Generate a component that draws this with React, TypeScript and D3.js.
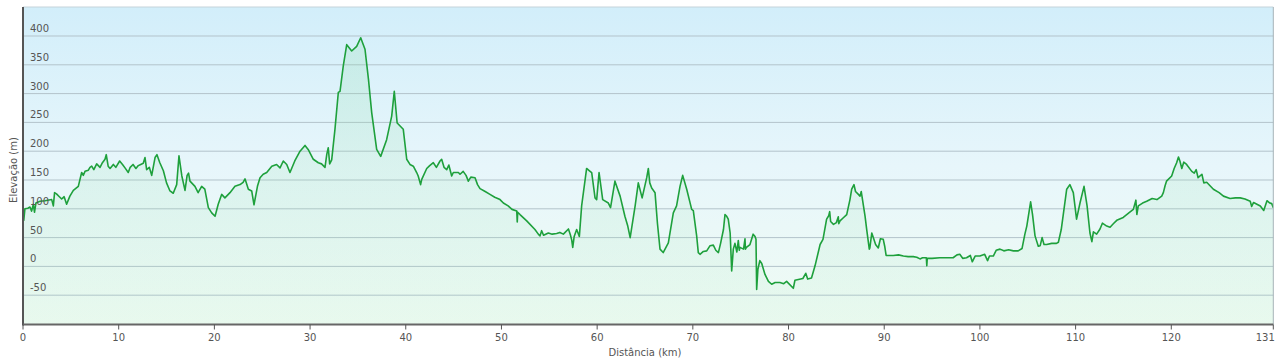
import React from "react";
import * as d3 from "d3";

const distanceKm = [
  0.0, 0.08, 0.2, 0.5, 0.73, 0.9, 1.08, 1.2, 1.35, 1.78, 2.3, 3.0, 3.17, 3.3, 3.5, 3.8, 4.04, 4.3, 4.56, 4.75,
  4.9, 5.26, 5.78, 6.13, 6.3, 6.48, 6.83, 7.0, 7.18, 7.4, 7.7, 8.05, 8.3, 8.57, 8.7, 8.9, 9.1, 9.44, 9.7, 10.1,
  10.4, 10.66, 11.0, 11.2, 11.5, 11.8, 12.05, 12.3, 12.57, 12.75, 12.92, 13.2, 13.45, 13.8, 14.0, 14.3, 14.67, 15.0, 15.36, 15.7,
  16.06, 16.3, 16.6, 16.93, 17.15, 17.3, 17.45, 17.97, 18.3, 18.67, 19.0, 19.37, 19.72, 20.07, 20.4, 20.76, 21.1, 21.63, 22.15, 22.68,
  23.0, 23.2, 23.55, 23.9, 24.14, 24.5, 24.77, 25.1, 25.47, 26.0, 26.5, 26.86, 27.2, 27.56, 27.9, 28.4, 28.95, 29.47, 29.8, 30.34,
  30.86, 31.2, 31.56, 31.75, 31.9, 32.05, 32.26, 32.6, 32.95, 33.13, 33.47, 33.83, 34.35, 34.87, 35.29, 35.74, 36.1, 36.44, 36.96, 37.38,
  38.0, 38.53, 38.8, 39.1, 39.74, 40.1, 40.44, 40.79, 41.14, 41.3, 41.55, 41.67, 42.19, 42.5, 42.88, 43.2, 43.58, 43.75, 44.0, 44.28,
  44.5, 44.8, 44.97, 45.5, 45.67, 46.0, 46.3, 46.54, 46.8, 47.24, 47.5, 47.76, 48.3, 48.8, 49.3, 49.85, 50.2, 50.7, 51.1, 51.6,
  51.65, 51.7, 51.94, 52.64, 53.5, 53.85, 54.03, 54.2, 54.4, 54.9, 55.3, 55.77, 56.1, 56.47, 57.0, 57.2, 57.34, 57.45, 57.6, 57.86,
  58.14, 58.38, 58.9, 59.2, 59.43, 59.78, 59.95, 60.2, 60.58, 61.17, 61.4, 61.86, 62.4, 62.9, 63.2, 63.45, 63.97, 64.3, 64.7, 65.18,
  65.35, 65.5, 65.7, 66.05, 66.3, 66.57, 66.9, 67.44, 67.96, 68.3, 68.66, 68.94, 69.36, 69.88, 70.05, 70.4, 70.57, 70.75, 71.1, 71.45,
  71.8, 72.14, 72.4, 72.67, 72.9, 73.2, 73.36, 73.54, 73.7, 73.9, 74.06, 74.23, 74.4, 74.6, 74.75, 74.85, 74.93, 75.3, 75.45, 75.5,
  75.6, 75.97, 76.3, 76.5, 76.6, 76.67, 76.8, 77.0, 77.2, 77.54, 77.9, 78.24, 78.6, 79.1, 79.5, 79.8, 80.5, 80.67, 81.5, 81.8,
  82.0, 82.4, 82.77, 83.3, 83.6, 83.98, 84.2, 84.3, 84.4, 84.7, 85.0, 85.2, 85.25, 85.38, 85.7, 86.08, 86.42, 86.6, 86.84, 87.0,
  87.3, 87.47, 87.6, 88.0, 88.17, 88.44, 88.5, 88.7, 88.86, 89.1, 89.38, 89.6, 89.9, 90.05, 90.2, 90.95, 91.5, 92.0, 92.5, 93.04,
  93.4, 93.74, 94.0, 94.4, 94.45, 94.5, 95.0, 95.8, 96.5, 97.2, 97.6, 97.9, 98.2, 98.6, 99.0, 99.2, 99.5, 100.0, 100.5, 100.8,
  101.0, 101.4, 101.7, 102.1, 102.5, 103.0, 103.5, 104.0, 104.4, 104.7, 104.9, 105.3, 105.5, 105.76, 106.1, 106.3, 106.5, 106.7, 106.97, 107.5,
  108.0, 108.2, 108.5, 109.07, 109.4, 109.76, 110.1, 110.46, 110.88, 111.2, 111.5, 111.7, 111.86, 112.2, 112.55, 112.8, 113.25, 113.6, 113.94, 114.3,
  114.98, 115.5, 116.03, 116.3, 116.4, 116.55, 117.0, 117.43, 118.0, 118.5, 119.0, 119.17, 119.35, 119.5, 120.04, 120.3, 120.56, 120.75, 120.9, 121.1,
  121.3, 121.6, 122.14, 122.4, 122.6, 122.8, 123.2, 123.4, 123.7, 124.4, 125.0, 125.45, 126.14, 126.7, 127.2, 127.7, 128.25, 128.4, 128.6, 129.3,
  129.66, 130.0, 130.3, 130.5, 130.66,
];

const elevationM = [
  96, 80, 100, 101, 103, 96, 108, 94, 110, 113, 114, 116, 105, 128, 126, 121, 117, 121, 108, 116,
  122, 132, 139, 163, 158, 165, 167, 172, 174, 168, 178, 172, 180, 186, 194, 174, 170, 177, 172, 183,
  177, 171, 163, 172, 177, 170, 175, 177, 179, 189, 168, 172, 158, 189, 194, 180, 166, 145, 131, 127,
  142, 192, 157, 132, 158, 162, 148, 139, 128, 139, 134, 102, 93, 87, 108, 125, 119, 128, 139, 142,
  146, 152, 134, 131, 107, 139, 154, 160, 163, 174, 177, 171, 183, 177, 163, 183, 200, 210, 203, 186,
  180, 178, 172, 195, 206, 178, 185, 238, 302, 304, 348, 385, 374, 382, 397, 377, 325, 267, 203, 191,
  220, 261, 304, 249, 238, 186, 177, 174, 163, 157, 142, 151, 170, 175, 180, 172, 183, 186, 172, 168,
  176, 157, 163, 163, 160, 165, 158, 148, 155, 154, 142, 135, 130, 125, 120, 116, 110, 105, 99, 96,
  77, 94, 90, 79, 64, 56, 53, 62, 54, 58, 56, 57, 59, 56, 65, 55, 46, 33, 52, 64,
  52, 105, 170, 166, 163, 119, 116, 163, 116, 110, 102, 148, 122, 87, 70, 50, 105, 145, 119, 154,
  170, 145, 136, 128, 75, 30, 24, 41, 93, 105, 139, 158, 134, 99, 97, 53, 24, 21, 26, 27,
  36, 37, 28, 24, 40, 64, 90, 87, 82, 58, -8, 30, 40, 25, 45, 28, 33, 30, 48, 30,
  33, 38, 56, 52, 47, -40, -5, 10, 5, -14, -26, -31, -28, -28, -30, -26, -38, -24, -21, -12,
  -22, -20, 1, 38, 47, 82, 88, 95, 78, 73, 76, 86, 74, 79, 84, 90, 116, 134, 142, 130,
  125, 122, 130, 87, 64, 30, 32, 58, 50, 38, 32, 48, 47, 35, 19, 19, 20, 18, 17, 17,
  16, 13, 15, 15, 1, 14, 14, 15, 15, 15, 20, 21, 14, 15, 19, 8, 18, 18, 21, 10,
  18, 18, 28, 30, 27, 29, 27, 27, 31, 56, 70, 112, 90, 53, 35, 36, 50, 38, 38, 40,
  40, 42, 64, 134, 142, 128, 82, 110, 139, 105, 58, 43, 60, 56, 65, 75, 70, 68, 74, 80,
  85, 92, 99, 115, 90, 105, 110, 113, 118, 116, 122, 128, 140, 148, 157, 170, 180, 190, 183, 170,
  181, 177, 165, 162, 168, 154, 160, 145, 146, 134, 128, 122, 118, 119, 119, 117, 113, 104, 111, 105,
  97, 114, 110, 109, 102,
];

const yTicks = [-50, 0, 50, 100, 150, 200, 250, 300, 350, 400];
const xTicks = [0, 10, 20, 30, 40, 50, 60, 70, 80, 90, 100, 110, 120];
const xEndLabel = "131";
const xTitle = "Distância  (km)";
const yTitle = "Elevação (m)";

export default function App() {
  const W = 1280;
  const H = 362;
  const left = 23;
  const right = 1273.3;
  const top = 7;
  const bottom = 324.5;

  const maxKm = distanceKm[distanceKm.length - 1];
  const x = d3.scaleLinear().domain([0, maxKm]).range([left, right]);
  const y = d3.scaleLinear().domain([-100, 450]).range([324.0, 7.2]);

  const pts = distanceKm.map((d, i) => [d, elevationM[i]] as [number, number]);
  const line = d3.line<[number, number]>().x((d) => x(d[0])).y((d) => y(d[1]));
  const area = d3
    .area<[number, number]>()
    .x((d) => x(d[0]))
    .y0(bottom)
    .y1((d) => y(d[1]));

  const font = "'DejaVu Sans', Verdana, sans-serif";

  return (
    <svg
      width={W}
      height={H}
      style={{ position: "absolute", left: 0, top: 0, display: "block", background: "#fff" }}
    >
      <defs>
        <linearGradient id="bg" x1="0" y1="0" x2="0" y2="1">
          <stop offset="0%" stopColor="#d2eefa" />
          <stop offset="50%" stopColor="#e7f6fb" />
          <stop offset="100%" stopColor="#effbf3" />
        </linearGradient>
        <linearGradient id="fillg" x1="0" y1="0" x2="0" y2="1">
          <stop offset="0%" stopColor="#7fd89a" stopOpacity={0.2} />
          <stop offset="100%" stopColor="#a8e8bd" stopOpacity={0.1} />
        </linearGradient>
        <clipPath id="plotclip">
          <rect x={left} y={top} width={right - left} height={bottom - top} />
        </clipPath>
      </defs>

      <rect x={left} y={top} width={right - left} height={bottom - top} fill="url(#bg)" />

      {yTicks.map((t) => (
        <line key={"g" + t} x1={left} x2={right} y1={y(t)} y2={y(t)} stroke="#b3c3cb" strokeWidth={1} />
      ))}

      <g clipPath="url(#plotclip)">
        <path d={area(pts) || ""} fill="url(#fillg)" />
        <path d={line(pts) || ""} fill="none" stroke="#1ea03c" strokeWidth={1.6} strokeLinejoin="round" />
      </g>

      {yTicks.map((t) => (
        <text key={"yl" + t} x={30} y={y(t) - 4} fontSize={10} fill="#555" fontFamily={font}>
          {t}
        </text>
      ))}

      {/* frame */}
      <line x1={left} x2={right} y1={top} y2={top} stroke="#c4d3da" strokeWidth={1} />
      <line x1={right} x2={right} y1={top} y2={bottom} stroke="#a7b3b8" strokeWidth={1} />
      <line x1={left} x2={left} y1={top} y2={bottom + 1} stroke="#555" strokeWidth={2} />
      <line x1={left} x2={right} y1={bottom} y2={bottom} stroke="#666" strokeWidth={2} />

      {xTicks.map((t) => (
        <g key={"xt" + t}>
          <line x1={x(t)} x2={x(t)} y1={bottom} y2={bottom + 5} stroke="#555" strokeWidth={1} />
          <text x={x(t)} y={341} textAnchor="middle" fontSize={10} fill="#555" fontFamily={font}>
            {t}
          </text>
        </g>
      ))}
      <line x1={right} x2={right} y1={bottom} y2={bottom + 5} stroke="#555" strokeWidth={1} />
      <text x={right - 8} y={341} textAnchor="middle" fontSize={10} fill="#555" fontFamily={font}>
        {xEndLabel}
      </text>

      <text x={645} y={356} textAnchor="middle" fontSize={10} fill="#555" fontFamily={font}>
        {xTitle}
      </text>
      <text
        transform={`translate(17,170) rotate(-90)`}
        textAnchor="middle"
        fontSize={10}
        fill="#555"
        fontFamily={font}
      >
        {yTitle}
      </text>
    </svg>
  );
}
